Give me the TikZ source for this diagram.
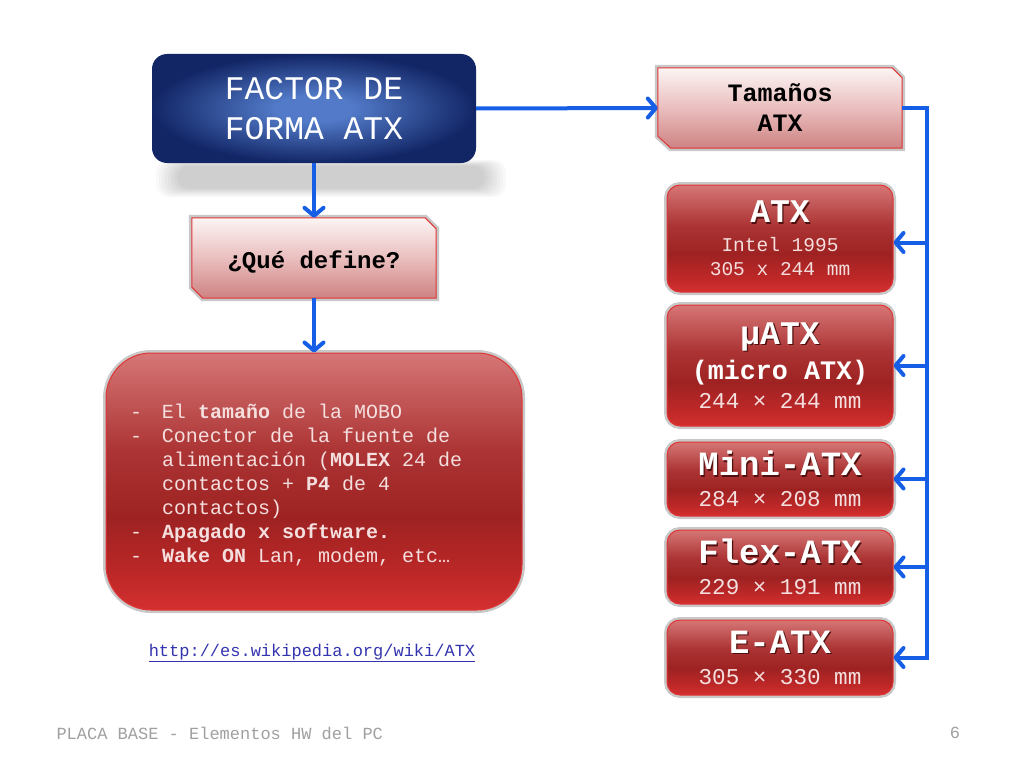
\documentclass[tikz,border=0pt]{standalone}
\usepackage{fontspec}
\setmainfont{Liberation Mono}
\usetikzlibrary{arrows.meta}
\definecolor{arrowblue}{RGB}{22,94,230}
\definecolor{blueIn}{RGB}{82,122,200}
\definecolor{blueOut}{RGB}{18,38,102}
\definecolor{rTop}{RGB}{214,118,118}
\definecolor{rMid2}{RGB}{172,52,52}
\definecolor{rMid}{RGB}{158,34,34}
\definecolor{rBot2}{RGB}{192,40,40}
\definecolor{rBot}{RGB}{212,48,48}
\definecolor{pTop}{RGB}{252,244,244}
\definecolor{pMid}{RGB}{234,190,190}
\definecolor{pBot}{RGB}{206,130,130}
\definecolor{edgeRed}{RGB}{224,52,52}
\definecolor{halo}{RGB}{200,200,200}
\definecolor{txtPink}{RGB}{244,222,222}
\definecolor{tshade}{RGB}{80,16,16}
\definecolor{footGray}{RGB}{160,160,160}
\definecolor{linkBlue}{RGB}{52,52,175}
\pgfdeclarelayer{back}
\pgfdeclarelayer{bg}
\pgfsetlayers{back,bg,main}
\pgfdeclareradialshading{bluerad}{\pgfpoint{0bp}{0bp}}{color(0bp)=(blueIn); color(6bp)=(blueIn); color(25bp)=(blueOut); color(50bp)=(blueOut)}
\pgfdeclareverticalshading{redv}{100bp}{color(0bp)=(rBot); color(25bp)=(rBot); color(31bp)=(rBot2); color(43bp)=(rMid); color(56bp)=(rMid2); color(75bp)=(rTop); color(100bp)=(rTop)}
\pgfdeclareverticalshading{pinkv}{100bp}{color(0bp)=(pBot); color(25bp)=(pBot); color(50bp)=(pMid); color(75bp)=(pTop); color(100bp)=(pTop)}
\newcommand\tsh[1]{\rlap{\kern1.3pt\raisebox{-1.3pt}{\color{tshade}#1}}#1}
\newcommand\tightlines{\lineskiplimit=-100pt\lineskip=0pt\relax}
\newcommand\dsh{\makebox[32pt][l]{-}}
\newcommand\ind{\hspace*{32pt}}
\begin{document}
\begin{tikzpicture}[x=1pt,y=-1pt,
  conn/.style={arrowblue, line width=4pt, -{Straight Barb[length=8pt,width=19pt,round]}},
  bluebox/.style={shade, shading=bluerad, rounded corners=15pt, minimum width=324pt, minimum height=109pt, inner sep=0pt, text=white, align=center, font={\fontsize{33}{40}\selectfont}},
  pinktext/.style={minimum width=244pt, minimum height=80pt, inner sep=0pt, align=center, text=black},
  pinkshape/.style={shade, shading=pinkv, draw=edgeRed, line width=1pt, preaction={draw=halo, line width=6pt}},
  mainbox/.style={shade, shading=redv, draw=edgeRed, line width=1pt, rounded corners=45pt, preaction={draw=halo, line width=6pt}, minimum width=416pt, minimum height=257pt, inner sep=0pt, text width=368pt, align=left, text=txtPink, font={\fontsize{20}{24}\selectfont}},
  sizebox/.style={shade, shading=redv, draw=edgeRed, line width=1pt, rounded corners=13pt, preaction={draw=halo, line width=6pt}, minimum width=226pt, inner sep=0pt, align=center, text=txtPink},
  titlef/.style={font={\fontsize{#1}{0}\selectfont\tightlines}}
]
\begin{pgfonlayer}{back}
  \fill[white] (0,0) rectangle (1024,768);
\end{pgfonlayer}
\useasboundingbox (0,0) rectangle (1024,768);

% soft shadow under the blue box
\foreach \k in {0,...,7}
  \fill[black, opacity=0.025, rounded corners=12pt] (156+\k*3,160+\k*0.8) rectangle (506-\k*3,197-\k*1.2);

\node[bluebox] (factor) at (314,108.5) {FACTOR DE\\FORMA ATX};

\node[pinktext, font={\fontsize{24}{29}\selectfont\bfseries}] (que) at (314,258) {\raisebox{-4pt}[\height][\depth]{¿Qué define?}};
\node[pinktext, font={\fontsize{25}{30}\selectfont\bfseries}] (tam) at (780,108) {Tamaños\\ATX};
\begin{pgfonlayer}{bg}
  \path[pinkshape] (que.north west) -- ([xshift=-11pt]que.north east) -- ([yshift=-11pt]que.north east) -- (que.south east) -- ([xshift=11pt]que.south west) -- ([yshift=11pt]que.south west) -- cycle;
  \path[pinkshape] (tam.north west) -- ([xshift=-10pt]tam.north east) -- ([yshift=-10pt]tam.north east) -- (tam.south east) -- ([xshift=13pt]tam.south west) -- ([yshift=12pt]tam.south west) -- cycle;
\end{pgfonlayer}

\node[mainbox] (def) at (314,481.5) {\spaceskip=0pt\xspaceskip=0pt\relax
\rule{0pt}{21pt}\dsh El \textbf{tamaño} de la MOBO\\
\dsh Conector de la fuente de\\
\ind alimentación (\textbf{MOLEX} 24 de\\
\ind contactos + \textbf{P4} de 4\\
\ind contactos)\\
\dsh \textbf{Apagado x software.}\\
\dsh \textbf{Wake ON} Lan, modem, etc…};

\node[text=linkBlue, font={\fontsize{17}{20}\selectfont}] (link) at (312,653) {\underline{http://es.wikipedia.org/wiki/ATX}};

\node[sizebox, minimum height=107pt, titlef=19.5] (atx) at (780,238.5)
  {{\fontsize{33}{0}\selectfont\bfseries\color{white}\tsh{ATX}}\\[29pt]Intel 1995\\[24pt]305 x 244 mm};
\node[sizebox, minimum height=121pt, titlef=22.6] (uatx) at (780,365.5)
  {{\fontsize{33}{0}\selectfont\bfseries\color{white}\tsh{µATX}}\\[35pt]{\fontsize{26.7}{0}\selectfont\bfseries\color{white}(micro ATX)}\\[29pt]244 × 244 mm};
\node[sizebox, minimum height=74pt, titlef=22.6] (mini) at (780,479)
  {{\fontsize{34}{0}\selectfont\bfseries\color{white}\tsh{Mini-ATX}}\\[31pt]284 × 208 mm};
\node[sizebox, minimum height=74pt, titlef=22.6] (flex) at (780,567)
  {{\fontsize{34}{0}\selectfont\bfseries\color{white}\tsh{Flex-ATX}}\\[31pt]229 × 191 mm};
\node[sizebox, minimum height=75pt, titlef=22.6] (eatx) at (780,657.5)
  {{\fontsize{34}{0}\selectfont\bfseries\color{white}\tsh{E-ATX}}\\[31pt]305 × 330 mm};

\node[anchor=west, text=footGray, font={\fontsize{17}{20}\selectfont}] (footer) at (53,733) {PLACA BASE - Elementos HW del PC};
\node[text=footGray, font={\fontsize{17}{20}\selectfont}] (pnum) at (955,733) {6};

% connectors
\draw[conn] (factor.south) -- (que.north);
\draw[conn] (que.south) -- (def.north);
\draw[conn] (factor.east) -- (tam.west);
\coordinate (bustop) at (927,108);
\coordinate (busbot) at (eatx.east -| bustop);
\draw[conn] (tam.east) -- (bustop) -- (busbot) -- (eatx.east);
\draw[conn] ([yshift=-4pt]atx.east -| bustop) -- ([yshift=-4pt]atx.east);
\foreach \n in {uatx,mini,flex}
  \draw[conn] (\n.east -| bustop) -- (\n.east);
\end{tikzpicture}
\end{document}
